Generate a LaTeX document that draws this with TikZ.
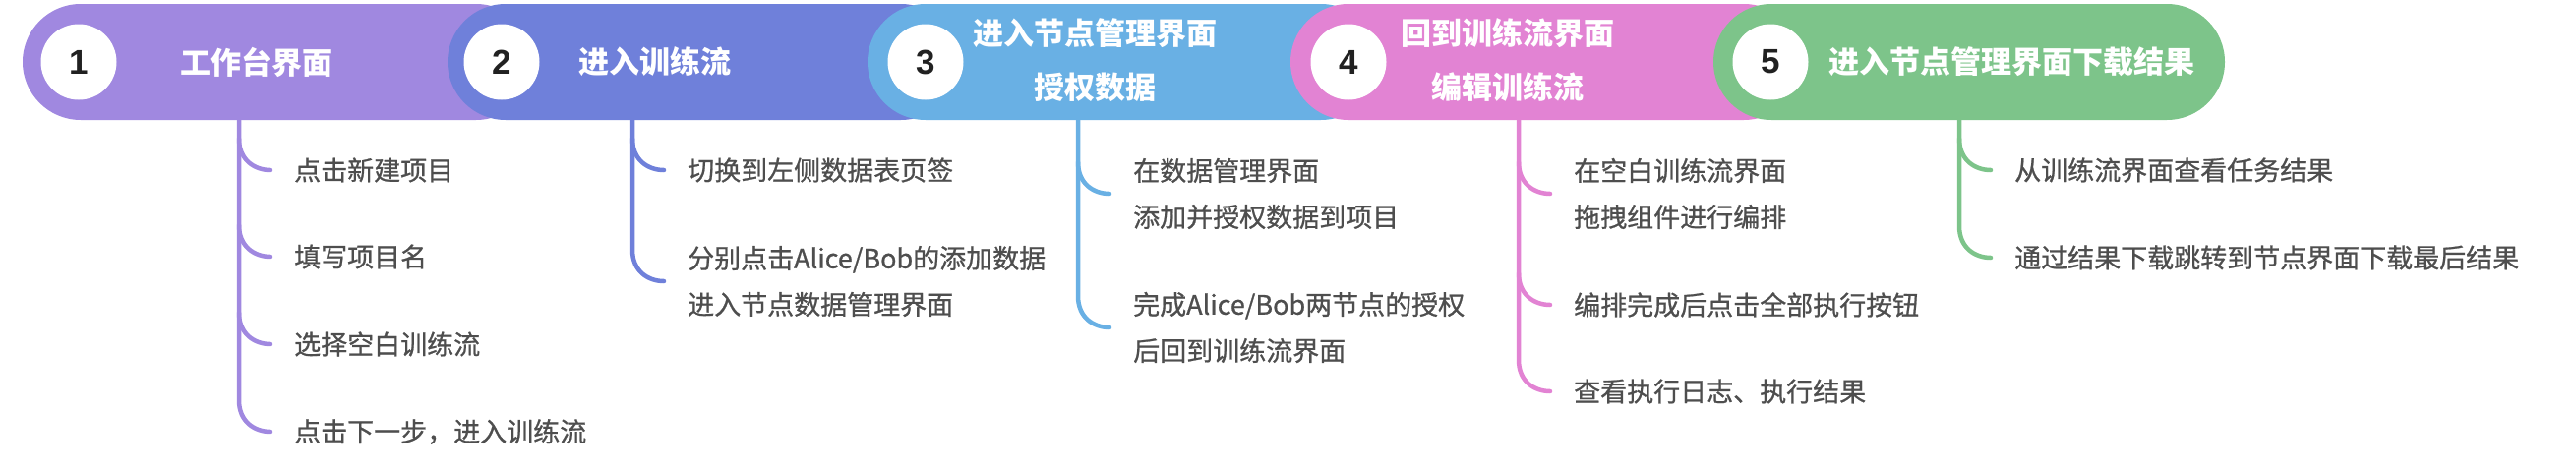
\documentclass[tikz,border=0pt]{standalone}
\usepackage{fontspec}
\setmainfont{Noto Sans CJK SC}
\newfontfamily\itemfont{Noto Sans CJK SC}[FakeBold=0.8]
\newfontfamily\digitfont{Liberation Sans}
\usetikzlibrary{calc}
\definecolor{c1}{HTML}{A088E0}
\definecolor{c2}{HTML}{6F80DA}
\definecolor{c3}{HTML}{69B0E4}
\definecolor{c4}{HTML}{E283D3}
\definecolor{c5}{HTML}{7DC48A}
\definecolor{txt}{HTML}{4E4E4E}
\begin{document}
\begin{tikzpicture}[x=1pt,y=-1pt,
  bar/.style={draw=none, rounded corners=59pt, minimum width=520pt, minimum height=118pt, inner sep=0pt},
  num/.style={circle, fill=white, minimum size=77pt, inner sep=0pt, font=\digitfont\bfseries\fontsize{35}{35}\selectfont, text=black!87},
  head/.style={text=white, font=\bfseries\fontsize{31}{55}\selectfont, align=center, inner sep=0pt},
  item/.style={anchor=west, text=txt, font=\itemfont\fontsize{27}{47}\selectfont, align=left, inner sep=0pt},
  br/.style={line width=4.5pt, line cap=round}]
\useasboundingbox (0,0) rectangle (2619,480);
% bars
\node[bar, fill=c1] (b1) at (283,63) {};
\node[bar, fill=c2] (b2) at (715,63) {};
\node[bar, fill=c3] (b3) at (1142,63) {};
\node[bar, fill=c4] (b4) at (1572,63) {};
\node[bar, fill=c5] (b5) at (2002,63) {};
% number circles
\node[num] (n1) at (80,63) {1};
\node[num] (n2) at (510,63) {2};
\node[num] (n3) at (941,63) {3};
\node[num] (n4) at (1371,63) {4};
\node[num] (n5) at (1800,63) {5};
% headers
\node[head] (h1) at (261,63) {工作台界面};
\node[head] (h2) at (666,63) {进入训练流};
\node[head] (h3) at (1113,61) {进入节点管理界面\\授权数据};
\node[head] (h4) at (1533,61) {回到训练流界面\\编辑训练流};
\node[head] (h5) at (2045,63) {进入节点管理界面下载结果};
% items
\node[item] (i11) at (299,173) {点击新建项目};
\node[item] (i12) at (299,261) {填写项目名};
\node[item] (i13) at (299,350) {选择空白训练流};
\node[item] (i14) at (299,439) {点击下一步，进入训练流};
\node[item] (i21) at (699,173) {切换到左侧数据表页签};
\node[item] (i22) at (699,286) {分别点击Alice/Bob的添加数据\\进入节点数据管理界面};
\node[item] (i31) at (1152,197) {在数据管理界面\\添加并授权数据到项目};
\node[item] (i32) at (1152,333) {完成Alice/Bob两节点的授权\\后回到训练流界面};
\node[item] (i41) at (1600,197) {在空白训练流界面\\拖拽组件进行编排};
\node[item] (i42) at (1600,310) {编排完成后点击全部执行按钮};
\node[item] (i43) at (1600,398) {查看执行日志、执行结果};
\node[item] (i51) at (2048,173) {从训练流界面查看任务结果};
\node[item] (i52) at (2048,262) {通过结果下载跳转到节点界面下载最后结果};
% trunk coordinates
\coordinate (t1) at ($(i11.west)+(-56,0)$);
\coordinate (t2) at ($(i21.west)+(-56,0)$);
\coordinate (t3) at ($(i31.west)+(-56,0)$);
\coordinate (t4) at ($(i41.west)+(-56,0)$);
\coordinate (t5) at ($(i51.west)+(-56,0)$);
% branches bar 1
\draw[br, c1] (b1.south -| t1) -- ($(i14.west)+(-56,-32)$) .. controls +(0,22) and +(-16,0) .. ($(i14.west)+(-24,0)$);
\draw[br, c1] ($(i11.west)+(-56,-32)$) .. controls +(0,22) and +(-16,0) .. ($(i11.west)+(-24,0)$);
\draw[br, c1] ($(i12.west)+(-56,-32)$) .. controls +(0,22) and +(-16,0) .. ($(i12.west)+(-24,0)$);
\draw[br, c1] ($(i13.west)+(-56,-32)$) .. controls +(0,22) and +(-16,0) .. ($(i13.west)+(-24,0)$);
% branches bar 2
\draw[br, c2] (b2.south -| t2) -- ($(i22.west)+(-56,-32)$) .. controls +(0,22) and +(-16,0) .. ($(i22.west)+(-24,0)$);
\draw[br, c2] ($(i21.west)+(-56,-32)$) .. controls +(0,22) and +(-16,0) .. ($(i21.west)+(-24,0)$);
% branches bar 3
\draw[br, c3] (b3.south -| t3) -- ($(i32.west)+(-56,-32)$) .. controls +(0,22) and +(-16,0) .. ($(i32.west)+(-24,0)$);
\draw[br, c3] ($(i31.west)+(-56,-32)$) .. controls +(0,22) and +(-16,0) .. ($(i31.west)+(-24,0)$);
% branches bar 4
\draw[br, c4] (b4.south -| t4) -- ($(i43.west)+(-56,-32)$) .. controls +(0,22) and +(-16,0) .. ($(i43.west)+(-24,0)$);
\draw[br, c4] ($(i41.west)+(-56,-32)$) .. controls +(0,22) and +(-16,0) .. ($(i41.west)+(-24,0)$);
\draw[br, c4] ($(i42.west)+(-56,-32)$) .. controls +(0,22) and +(-16,0) .. ($(i42.west)+(-24,0)$);
% branches bar 5
\draw[br, c5] (b5.south -| t5) -- ($(i52.west)+(-56,-32)$) .. controls +(0,22) and +(-16,0) .. ($(i52.west)+(-24,0)$);
\draw[br, c5] ($(i51.west)+(-56,-32)$) .. controls +(0,22) and +(-16,0) .. ($(i51.west)+(-24,0)$);
\end{tikzpicture}
\end{document}
